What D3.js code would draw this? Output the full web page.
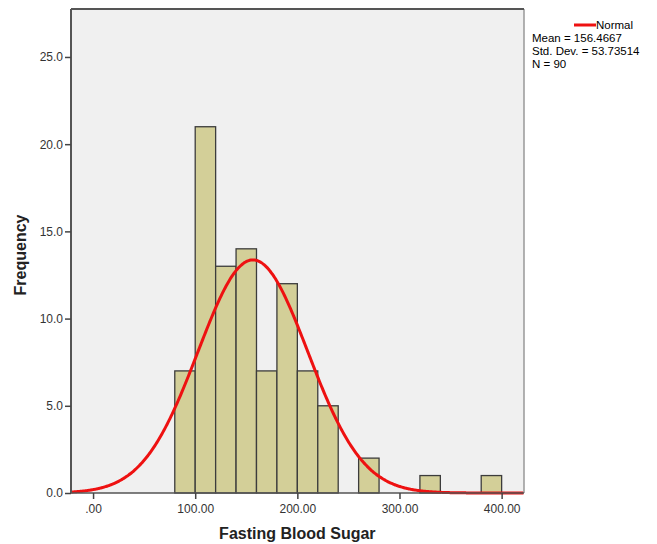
<!DOCTYPE html>
<html>
<head>
<meta charset="utf-8">
<script src="https://cdn.jsdelivr.net/npm/d3@7"></script>
<style>
  body { margin: 0; background: #fff; }
  text { font-family: "Liberation Sans", Arial, sans-serif; }
</style>
</head>
<body>
<div id="chart"></div>
<script>
// histogram bins (lower edge) and counts
const binStarts = [80, 100, 120, 140, 160, 180, 200, 220, 240, 260, 280, 300, 320, 340, 360, 380];
const counts    = [7, 21, 13, 14, 7, 12, 7, 5, 0, 2, 0, 0, 1, 0, 0, 1];
const binWidth = 20;
const yTicks = [0, 5, 10, 15, 20, 25];
const xTicks = [0, 100, 200, 300, 400];
const stats = { mean: 156.4667, sd: 53.73514, n: 90 };

const margin = { top: 9, right: 133, bottom: 51, left: 71 };
const width = 657 - margin.left - margin.right,
    height = 544 - margin.top - margin.bottom;

const svg = d3.select("#chart").append("svg")
    .attr("width", 657)
    .attr("height", 544);

const g = svg.append("g")
    .attr("transform", "translate(" + margin.left + "," + margin.top + ")");

const x = d3.scaleLinear().domain([-21.6, 421.9]).range([0, width]);
const y = d3.scaleLinear().domain([0, 27.75]).range([height, 0]);

// plot background
g.append("rect")
    .attr("width", width)
    .attr("height", height)
    .attr("fill", "#f0f0f0");

// bars
g.selectAll("rect.bar")
    .data(binStarts.map((b, i) => ({ x0: b, count: counts[i] })).filter(d => d.count > 0))
    .enter().append("rect")
    .attr("class", "bar")
    .attr("x", d => x(d.x0))
    .attr("y", d => y(d.count))
    .attr("width", d => x(d.x0 + binWidth) - x(d.x0))
    .attr("height", d => y(0) - y(d.count))
    .attr("fill", "#d3cf98")
    .attr("stroke", "#3c3c3c")
    .attr("stroke-width", 1.3);

// normal curve scaled to counts
const scale = stats.n * binWidth / (stats.sd * Math.sqrt(2 * Math.PI));
const curvePts = d3.range(-21.6, 422, 1).map(v => [v, scale * Math.exp(-0.5 * Math.pow((v - stats.mean) / stats.sd, 2))]);
g.append("path")
    .datum(curvePts)
    .attr("fill", "none")
    .attr("stroke", "#ee1111")
    .attr("stroke-width", 3)
    .attr("d", d3.line().x(d => x(d[0])).y(d => y(d[1])).curve(d3.curveBasis));

// frame
g.append("line").attr("x1", width).attr("x2", width).attr("y1", 0).attr("y2", height)
    .attr("stroke", "#999").attr("stroke-width", 1.5);
g.append("line").attr("x1", 0).attr("x2", width).attr("y1", 0).attr("y2", 0)
    .attr("stroke", "#555").attr("stroke-width", 2);
g.append("line").attr("x1", 0).attr("x2", 0).attr("y1", 0).attr("y2", height)
    .attr("stroke", "#555").attr("stroke-width", 2);
g.append("line").attr("x1", 0).attr("x2", width).attr("y1", height).attr("y2", height)
    .attr("stroke", "#555").attr("stroke-width", 1.5);

// axes
const yAxis = g.append("g")
    .call(d3.axisLeft(y).tickValues(yTicks).tickFormat(d3.format(".1f")).tickSize(6).tickPadding(2));
const xAxis = g.append("g")
    .attr("transform", "translate(0," + height + ")")
    .call(d3.axisBottom(x).tickValues(xTicks).tickFormat(d => d === 0 ? ".00" : d3.format(".2f")(d)).tickSize(6).tickPadding(5));

[yAxis, xAxis].forEach(a => {
    a.select(".domain").remove();
    a.selectAll(".tick line").attr("stroke", "#444").attr("stroke-width", 1.5);
    a.selectAll(".tick text").attr("fill", "#333").style("font-size", "12px");
});

// axis titles
svg.append("text")
    .attr("x", margin.left + x(200))
    .attr("y", 539)
    .attr("text-anchor", "middle")
    .style("font-size", "16px")
    .style("font-weight", "bold")
    .attr("fill", "#222")
    .text("Fasting Blood Sugar");

svg.append("text")
    .attr("transform", "translate(26," + (margin.top + height / 2 + 4) + ") rotate(-90)")
    .attr("text-anchor", "middle")
    .style("font-size", "16px")
    .style("font-weight", "bold")
    .attr("fill", "#222")
    .text("Frequency");

// legend
const leg = svg.append("g").attr("transform", "translate(532,0)");
leg.append("line").attr("x1", 42).attr("x2", 64).attr("y1", 25).attr("y2", 25)
    .attr("stroke", "#ee1111").attr("stroke-width", 3);
leg.append("text").attr("x", 64).attr("y", 29).style("font-size", "11.5px").text("Normal");
const legLines = ["Mean = " + stats.mean, "Std. Dev. = " + stats.sd, "N = " + stats.n];
leg.selectAll("text.stat")
    .data(legLines)
    .enter().append("text")
    .attr("class", "stat")
    .attr("x", 0)
    .attr("y", (d, i) => 42 + i * 13)
    .style("font-size", "11.5px")
    .text(d => d);
</script>
</body>
</html>
